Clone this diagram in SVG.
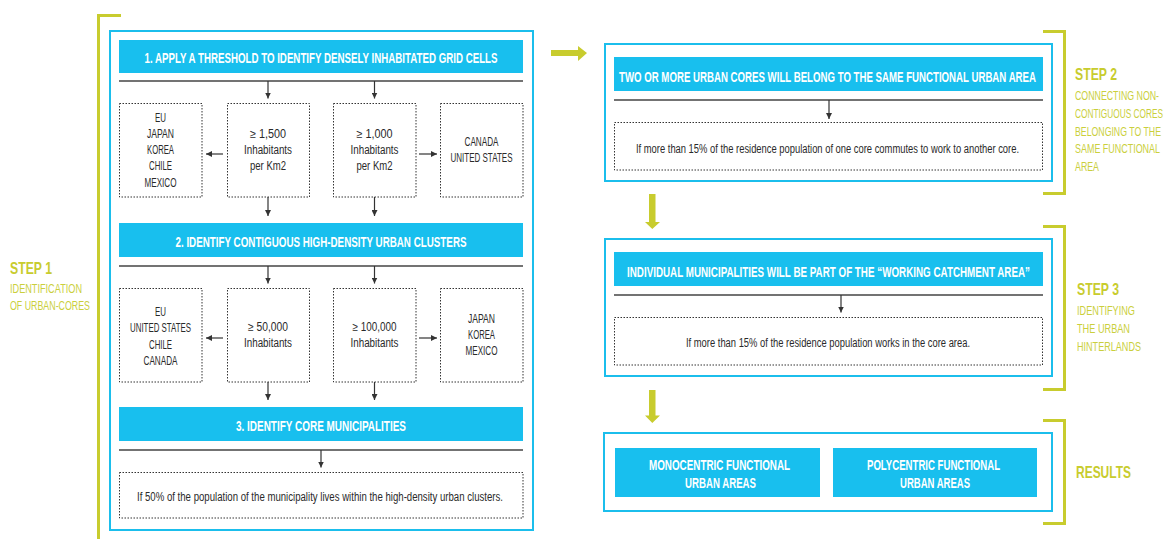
<svg xmlns="http://www.w3.org/2000/svg" width="1165" height="539" viewBox="0 0 1165 539">
  <defs>
    <marker id="tip" viewBox="0 0 6 6" refX="6" refY="3" markerWidth="6" markerHeight="6" markerUnits="userSpaceOnUse" orient="auto">
      <path d="M0,0 L6,3 L0,6 z" fill="#333"/>
    </marker>
    <style>
      .frame { fill: #fff; stroke: #1bbeec; stroke-width: 2; }
      .head { fill: #18bfee; }
      .rule { stroke: #444; stroke-width: 1.5; fill: none; }
      .dots { fill: none; stroke: #333; stroke-width: 1; stroke-dasharray: 1.5 1.5; }
      .link { stroke: #333; stroke-width: 1.2; fill: none; marker-end: url(#tip); }
      .bracket { fill: none; stroke: #c8cc2e; stroke-width: 3; }
      .yarrow { fill: #c8cc2e; }
      .ht { font-family: "Liberation Sans", Arial, sans-serif; font-weight: bold; font-size: 15px; fill: #fff; text-anchor: middle; }
      .bt { font-family: "Liberation Sans", Arial, sans-serif; font-size: 12px; fill: #2a2a2a; text-anchor: middle; }
      .st { font-family: "Liberation Sans", Arial, sans-serif; font-weight: bold; font-size: 16.5px; fill: #c8cc2e; }
      .ss { font-family: "Liberation Sans", Arial, sans-serif; font-size: 12.5px; fill: #cacf3c; }
    </style>
  </defs>

  <!-- side brackets and step labels -->
  <g id="step1-label">
    <path class="bracket" d="M121,15.5 H98.5 V539"/>
    <text class="st" x="10" y="274" textLength="42" lengthAdjust="spacingAndGlyphs">STEP 1</text>
    <text class="ss" x="10" y="292.5" textLength="72" lengthAdjust="spacingAndGlyphs">IDENTIFICATION</text>
    <text class="ss" x="10" y="310" textLength="80" lengthAdjust="spacingAndGlyphs">OF URBAN-CORES</text>
  </g>
  <g id="step2-label">
    <path class="bracket" d="M1043,31.5 H1064.5 V193.5 H1043"/>
    <text class="st" x="1075" y="80" textLength="42" lengthAdjust="spacingAndGlyphs">STEP 2</text>
    <text class="ss" x="1075" y="100" textLength="84" lengthAdjust="spacingAndGlyphs">CONNECTING NON-</text>
    <text class="ss" x="1075" y="118" textLength="88" lengthAdjust="spacingAndGlyphs">CONTIGUOUS CORES</text>
    <text class="ss" x="1075" y="135.5" textLength="86" lengthAdjust="spacingAndGlyphs">BELONGING TO THE</text>
    <text class="ss" x="1075" y="153.3" textLength="85" lengthAdjust="spacingAndGlyphs">SAME FUNCTIONAL</text>
    <text class="ss" x="1075" y="171" textLength="24" lengthAdjust="spacingAndGlyphs">AREA</text>
  </g>
  <g id="step3-label">
    <path class="bracket" d="M1043,226.5 H1064.5 V389.5 H1043"/>
    <text class="st" x="1077" y="294.5" textLength="42" lengthAdjust="spacingAndGlyphs">STEP 3</text>
    <text class="ss" x="1077" y="315" textLength="58" lengthAdjust="spacingAndGlyphs">IDENTIFYING</text>
    <text class="ss" x="1077" y="333" textLength="53" lengthAdjust="spacingAndGlyphs">THE URBAN</text>
    <text class="ss" x="1077" y="351" textLength="64" lengthAdjust="spacingAndGlyphs">HINTERLANDS</text>
  </g>
  <g id="results-label">
    <path class="bracket" d="M1043,420.5 H1064.5 V523.5 H1043"/>
    <text class="st" x="1076" y="478" font-size="17.5" textLength="55" lengthAdjust="spacingAndGlyphs">RESULTS</text>
  </g>

  <!-- step 1 panel -->
  <g id="step1-panel">
    <rect class="frame" x="110" y="31" width="423" height="499"/>
  </g>
  <g id="threshold">
    <rect class="head" x="119" y="40" width="404" height="33"/>
    <text class="ht" x="321" y="63.3" textLength="353" lengthAdjust="spacingAndGlyphs">1. APPLY A THRESHOLD TO IDENTIFY DENSELY INHABITATED GRID CELLS</text>
  </g>
  <g id="density-countries-a">
    <rect class="dots" x="119.5" y="103.5" width="82.5" height="93.5"/>
    <text class="bt" x="160.5" y="122" textLength="11" lengthAdjust="spacingAndGlyphs">EU</text>
    <text class="bt" x="160.5" y="138" textLength="27" lengthAdjust="spacingAndGlyphs">JAPAN</text>
    <text class="bt" x="160.5" y="154" textLength="27" lengthAdjust="spacingAndGlyphs">KOREA</text>
    <text class="bt" x="160.5" y="170" textLength="23" lengthAdjust="spacingAndGlyphs">CHILE</text>
    <text class="bt" x="160.5" y="186.5" textLength="32" lengthAdjust="spacingAndGlyphs">MEXICO</text>
  </g>
  <g id="density-1500">
    <rect class="dots" x="227.5" y="103.5" width="82" height="93.5"/>
    <text class="bt" x="268" y="138" textLength="36" lengthAdjust="spacingAndGlyphs">≥ 1,500</text>
    <text class="bt" x="268" y="154" textLength="48" lengthAdjust="spacingAndGlyphs">Inhabitants</text>
    <text class="bt" x="268" y="170" textLength="36" lengthAdjust="spacingAndGlyphs">per Km2</text>
  </g>
  <g id="density-1000">
    <rect class="dots" x="333.5" y="103.5" width="82.5" height="93.5"/>
    <text class="bt" x="374.5" y="138" textLength="36" lengthAdjust="spacingAndGlyphs">≥ 1,000</text>
    <text class="bt" x="374.5" y="154" textLength="48" lengthAdjust="spacingAndGlyphs">Inhabitants</text>
    <text class="bt" x="374.5" y="170" textLength="36" lengthAdjust="spacingAndGlyphs">per Km2</text>
  </g>
  <g id="density-countries-b">
    <rect class="dots" x="440.5" y="103.5" width="82.5" height="93.5"/>
    <text class="bt" x="481.5" y="146" textLength="34" lengthAdjust="spacingAndGlyphs">CANADA</text>
    <text class="bt" x="481.5" y="162" textLength="62" lengthAdjust="spacingAndGlyphs">UNITED STATES</text>
  </g>

  <g id="clusters">
    <rect class="head" x="119" y="223" width="404" height="34"/>
    <text class="ht" x="321" y="246.5" textLength="291" lengthAdjust="spacingAndGlyphs">2. IDENTIFY CONTIGUOUS HIGH-DENSITY URBAN CLUSTERS</text>
  </g>
  <g id="size-countries-a">
    <rect class="dots" x="119.5" y="288.5" width="82.5" height="93.5"/>
    <text class="bt" x="160.5" y="316" textLength="11" lengthAdjust="spacingAndGlyphs">EU</text>
    <text class="bt" x="160.5" y="332" textLength="61" lengthAdjust="spacingAndGlyphs">UNITED STATES</text>
    <text class="bt" x="160.5" y="348.5" textLength="23" lengthAdjust="spacingAndGlyphs">CHILE</text>
    <text class="bt" x="160.5" y="365" textLength="34" lengthAdjust="spacingAndGlyphs">CANADA</text>
  </g>
  <g id="size-50000">
    <rect class="dots" x="227.5" y="288.5" width="82" height="93.5"/>
    <text class="bt" x="268" y="331" textLength="40" lengthAdjust="spacingAndGlyphs">≥ 50,000</text>
    <text class="bt" x="268" y="347" textLength="48" lengthAdjust="spacingAndGlyphs">Inhabitants</text>
  </g>
  <g id="size-100000">
    <rect class="dots" x="333.5" y="288.5" width="82.5" height="93.5"/>
    <text class="bt" x="374.5" y="331" textLength="44" lengthAdjust="spacingAndGlyphs">≥ 100,000</text>
    <text class="bt" x="374.5" y="347" textLength="48" lengthAdjust="spacingAndGlyphs">Inhabitants</text>
  </g>
  <g id="size-countries-b">
    <rect class="dots" x="440.5" y="288.5" width="82.5" height="93.5"/>
    <text class="bt" x="481.5" y="322.5" textLength="27" lengthAdjust="spacingAndGlyphs">JAPAN</text>
    <text class="bt" x="481.5" y="338.5" textLength="27" lengthAdjust="spacingAndGlyphs">KOREA</text>
    <text class="bt" x="481.5" y="354.5" textLength="32" lengthAdjust="spacingAndGlyphs">MEXICO</text>
  </g>

  <g id="core-municipalities">
    <rect class="head" x="119" y="407" width="404" height="34"/>
    <text class="ht" x="321" y="430.5" textLength="170" lengthAdjust="spacingAndGlyphs">3. IDENTIFY CORE MUNICIPALITIES</text>
  </g>
  <g id="core-rule">
    <rect class="dots" x="119.5" y="472.5" width="403.5" height="45.5"/>
    <text class="bt" x="320" y="501" textLength="366" lengthAdjust="spacingAndGlyphs">If 50% of the population of the municipality lives within the high-density urban clusters.</text>
  </g>

  <!-- step 2 panel -->
  <g id="step2-panel">
    <rect class="frame" x="605" y="44" width="447" height="137"/>
  </g>
  <g id="same-fua">
    <rect class="head" x="614" y="57" width="429" height="34"/>
    <text class="ht" x="827.5" y="81.5" textLength="417" lengthAdjust="spacingAndGlyphs">TWO OR MORE URBAN CORES WILL BELONG TO THE SAME FUNCTIONAL URBAN AREA</text>
  </g>
  <g id="commute-rule">
    <rect class="dots" x="614.5" y="122.5" width="428" height="47.5"/>
    <text class="bt" x="827.5" y="153" textLength="383" lengthAdjust="spacingAndGlyphs">If more than 15% of the residence population of one core commutes to work to another core.</text>
  </g>

  <!-- step 3 panel -->
  <g id="step3-panel">
    <rect class="frame" x="605" y="239" width="447" height="137"/>
  </g>
  <g id="catchment">
    <rect class="head" x="614" y="252" width="429" height="34"/>
    <text class="ht" x="828.5" y="276.5" textLength="403" lengthAdjust="spacingAndGlyphs">INDIVIDUAL MUNICIPALITIES WILL BE PART OF THE “WORKING CATCHMENT AREA”</text>
  </g>
  <g id="hinterland-rule">
    <rect class="dots" x="614.5" y="317.5" width="428" height="47.5"/>
    <text class="bt" x="828" y="346.5" textLength="284" lengthAdjust="spacingAndGlyphs">If more than 15% of the residence population works in the core area.</text>
  </g>

  <!-- results panel -->
  <g id="results-panel">
    <rect class="frame" x="604" y="433" width="448" height="78"/>
  </g>
  <g id="monocentric">
    <rect class="head" x="615" y="448" width="205" height="49"/>
    <text class="ht" x="719.5" y="470" textLength="141" lengthAdjust="spacingAndGlyphs">MONOCENTRIC FUNCTIONAL</text>
    <text class="ht" x="720.5" y="487.5" textLength="71" lengthAdjust="spacingAndGlyphs">URBAN AREAS</text>
  </g>
  <g id="polycentric">
    <rect class="head" x="833" y="448" width="204" height="49"/>
    <text class="ht" x="933.5" y="470" textLength="133" lengthAdjust="spacingAndGlyphs">POLYCENTRIC FUNCTIONAL</text>
    <text class="ht" x="935" y="487.5" textLength="70" lengthAdjust="spacingAndGlyphs">URBAN AREAS</text>
  </g>

  <!-- connectors -->
  <g id="connectors">
    <line class="rule" x1="119" y1="81" x2="523" y2="81"/>
    <line class="rule" x1="119" y1="266" x2="523" y2="266"/>
    <line class="rule" x1="119" y1="450" x2="523" y2="450"/>
    <line class="rule" x1="614" y1="100" x2="1043" y2="100"/>
    <line class="rule" x1="614" y1="295" x2="1043" y2="295"/>

    <line class="link" x1="268" y1="81" x2="268" y2="98.5"/>
    <line class="link" x1="374.5" y1="81" x2="374.5" y2="98.5"/>
    <line class="link" x1="223" y1="154" x2="206" y2="154"/>
    <line class="link" x1="419" y1="154" x2="437" y2="154"/>
    <line class="link" x1="268" y1="197" x2="268" y2="216"/>
    <line class="link" x1="374.5" y1="197" x2="374.5" y2="216"/>

    <line class="link" x1="268" y1="266" x2="268" y2="283.5"/>
    <line class="link" x1="374.5" y1="266" x2="374.5" y2="283.5"/>
    <line class="link" x1="223" y1="338" x2="206" y2="338"/>
    <line class="link" x1="419" y1="338" x2="437" y2="338"/>
    <line class="link" x1="268" y1="382" x2="268" y2="400"/>
    <line class="link" x1="374.5" y1="382" x2="374.5" y2="400"/>

    <line class="link" x1="321" y1="450" x2="321" y2="467.5"/>
    <line class="link" x1="829" y1="100" x2="829" y2="119"/>
    <line class="link" x1="841" y1="295" x2="841" y2="312.5"/>

    <!-- flow between stages -->
    <polygon class="yarrow" points="551,50 578,50 578,46 587,53 578,61 578,56 551,56"/>
    <polygon class="yarrow" points="649,194 655.5,194 655.5,222 660,222 652.3,229 645,222 649,222"/>
    <polygon class="yarrow" points="649,390 655.5,390 655.5,415.5 660,415.5 652.3,423 645,415.5 649,415.5"/>
  </g>
</svg>
